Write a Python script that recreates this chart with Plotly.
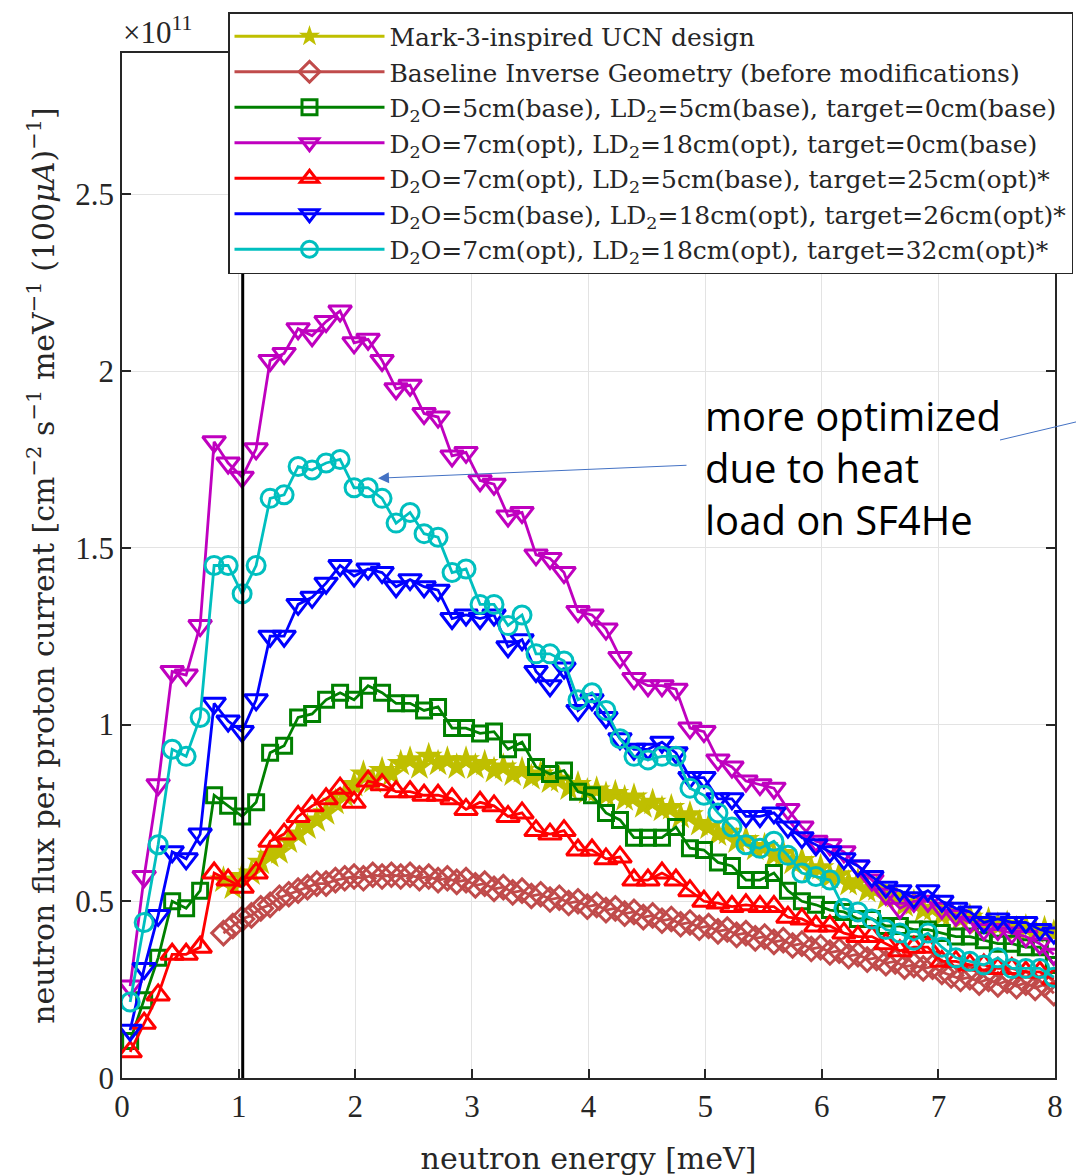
import plotly.graph_objects as go

# ---------------- data (flux in units of 1e11) ----------------
x_opt = [round(0.07 + 0.12 * k, 2) for k in range(67)]  # energy grid of the optimisation runs [meV]

y_green = [0.105, 0.22, 0.34, 0.50, 0.48, 0.53, 0.80, 0.77, 0.74, 0.78, 0.92, 0.94, 1.02, 1.03,
           1.07, 1.09, 1.07, 1.11, 1.09, 1.06, 1.06, 1.04, 1.05, 0.99, 0.99, 0.975, 0.98, 0.93,
           0.95, 0.88, 0.86, 0.87, 0.81, 0.80, 0.75, 0.73, 0.68, 0.68, 0.68, 0.71, 0.65, 0.645,
           0.61, 0.60, 0.56, 0.56, 0.58, 0.53, 0.50, 0.49, 0.475, 0.47, 0.45, 0.45, 0.43, 0.43,
           0.42, 0.42, 0.41, 0.40, 0.40, 0.39, 0.38, 0.38, 0.37, 0.37, 0.32]

y_magenta = [0.26, 0.57, 0.83, 1.15, 1.14, 1.28, 1.80, 1.74, 1.70, 1.78, 2.03, 2.05, 2.12, 2.10,
             2.14, 2.17, 2.08, 2.09, 2.03, 1.95, 1.96, 1.88, 1.87, 1.76, 1.77, 1.69, 1.68, 1.59,
             1.60, 1.48, 1.47, 1.43, 1.32, 1.31, 1.27, 1.19, 1.13, 1.11, 1.11, 1.10, 0.99, 0.98,
             0.90, 0.88, 0.84, 0.83, 0.82, 0.76, 0.71, 0.67, 0.66, 0.64, 0.60, 0.56, 0.52, 0.48,
             0.50, 0.50, 0.48, 0.46, 0.44, 0.42, 0.42, 0.41, 0.40, 0.38, 0.35]

y_red = [0.074, 0.155, 0.235, 0.35, 0.35, 0.37, 0.58, 0.56, 0.54, 0.58, 0.67, 0.69, 0.74, 0.77,
         0.79, 0.82, 0.78, 0.84, 0.83, 0.81, 0.81, 0.80, 0.80, 0.79, 0.76, 0.78, 0.77, 0.74,
         0.75, 0.70, 0.69, 0.70, 0.645, 0.645, 0.62, 0.625, 0.56, 0.56, 0.58, 0.56, 0.53, 0.50,
         0.495, 0.485, 0.49, 0.485, 0.485, 0.455, 0.45, 0.43, 0.43, 0.41, 0.40, 0.40, 0.38, 0.36,
         0.37, 0.37, 0.33, 0.33, 0.32, 0.32, 0.31, 0.31, 0.30, 0.30, 0.28]

y_blue = [0.135, 0.31, 0.46, 0.64, 0.62, 0.69, 1.06, 1.01, 0.98, 1.07, 1.25, 1.25, 1.34, 1.36,
          1.40, 1.45, 1.42, 1.44, 1.43, 1.39, 1.41, 1.39, 1.38, 1.30, 1.31, 1.30, 1.31, 1.22,
          1.24, 1.15, 1.11, 1.16, 1.04, 1.07, 1.02, 0.96, 0.93, 0.93, 0.95, 0.92, 0.85, 0.85,
          0.79, 0.79, 0.74, 0.74, 0.75, 0.71, 0.68, 0.66, 0.64, 0.62, 0.60, 0.57, 0.54, 0.53,
          0.51, 0.53, 0.50, 0.48, 0.47, 0.44, 0.45, 0.44, 0.44, 0.42, 0.41]

y_cyan = [0.215, 0.44, 0.66, 0.93, 0.91, 1.02, 1.45, 1.45, 1.37, 1.45, 1.64, 1.65, 1.73, 1.72,
          1.74, 1.75, 1.67, 1.67, 1.64, 1.57, 1.60, 1.54, 1.53, 1.43, 1.44, 1.34, 1.34, 1.28,
          1.31, 1.20, 1.20, 1.18, 1.07, 1.09, 1.04, 0.96, 0.91, 0.90, 0.91, 0.91, 0.82, 0.80,
          0.75, 0.71, 0.66, 0.65, 0.67, 0.63, 0.58, 0.57, 0.56, 0.48, 0.47, 0.45, 0.42, 0.41,
          0.39, 0.41, 0.37, 0.34, 0.33, 0.32, 0.34, 0.31, 0.31, 0.31, 0.285]

x_ref = [round(0.87 + 0.08 * j, 2) for j in range(90)]  # energy grid of the reference designs [meV]

y_mark3 = [0.56, 0.54, 0.57, 0.58, 0.61, 0.63, 0.64, 0.67, 0.69, 0.71, 0.73, 0.75, 0.78, 0.80,
           0.83, 0.86, 0.84, 0.87, 0.86, 0.89, 0.90, 0.88, 0.91, 0.89, 0.90, 0.88, 0.90, 0.88,
           0.89, 0.87, 0.88, 0.86, 0.87, 0.85, 0.86, 0.84, 0.845, 0.82, 0.83, 0.81, 0.815, 0.80,
           0.805, 0.79, 0.795, 0.77, 0.78, 0.76, 0.765, 0.74, 0.745, 0.72, 0.71, 0.69, 0.695, 0.67,
           0.675, 0.65, 0.655, 0.63, 0.635, 0.61, 0.615, 0.59, 0.595, 0.57, 0.575, 0.55, 0.555,
           0.53, 0.535, 0.51, 0.515, 0.49, 0.495, 0.475, 0.48, 0.46, 0.465, 0.45, 0.455, 0.44,
           0.445, 0.43, 0.435, 0.42, 0.425, 0.415, 0.42, 0.41]

y_baseline = [0.41, 0.43, 0.45, 0.46, 0.48, 0.49, 0.51, 0.52, 0.53, 0.54, 0.55, 0.55, 0.56, 0.565,
              0.57, 0.565, 0.575, 0.57, 0.575, 0.57, 0.575, 0.565, 0.57, 0.56, 0.565, 0.555, 0.56,
              0.545, 0.55, 0.535, 0.54, 0.525, 0.53, 0.515, 0.52, 0.505, 0.51, 0.495, 0.50, 0.485,
              0.49, 0.475, 0.48, 0.465, 0.47, 0.455, 0.46, 0.445, 0.45, 0.435, 0.44, 0.425, 0.43,
              0.415, 0.42, 0.405, 0.41, 0.395, 0.40, 0.385, 0.39, 0.375, 0.38, 0.365, 0.37, 0.355,
              0.36, 0.345, 0.35, 0.335, 0.34, 0.325, 0.33, 0.315, 0.32, 0.31, 0.315, 0.30, 0.29,
              0.28, 0.285, 0.27, 0.28, 0.265, 0.275, 0.26, 0.27, 0.255, 0.265, 0.24]

names = [
    "Mark-3-inspired UCN design",
    "Baseline Inverse Geometry (before modifications)",
    "D<sub>2</sub>O=5cm(base), LD<sub>2</sub>=5cm(base), target=0cm(base)",
    "D<sub>2</sub>O=7cm(opt), LD<sub>2</sub>=18cm(opt), target=0cm(base)",
    "D<sub>2</sub>O=7cm(opt), LD<sub>2</sub>=5cm(base), target=25cm(opt)*",
    "D<sub>2</sub>O=5cm(base), LD<sub>2</sub>=18cm(opt), target=26cm(opt)*",
    "D<sub>2</sub>O=7cm(opt), LD<sub>2</sub>=18cm(opt), target=32cm(opt)*",
]
cutoff_energy = 1.035
x_ticks = [0, 1, 2, 3, 4, 5, 6, 7, 8]
y_ticks = [0, 0.5, 1, 1.5, 2, 2.5]
y_ticklabels = ["0", "0.5", "1", "1.5", "2", "2.5"]

# ---------------- figure ----------------
SERIF = "Liberation Serif"
WIDE = "DejaVu Serif"
INK = "#262626"
fig = go.Figure()

series = [
    (x_ref, y_mark3, "#BFBF00", "star", 21, True),
    (x_ref, y_baseline, "#C04B4B", "diamond-open", 18, False),
    (x_opt, y_green, "#008000", "square-open", 15, False),
    (x_opt, y_magenta, "#BF00BF", "triangle-down-open", 20, False),
    (x_opt, y_red, "#FF0000", "triangle-up-open", 20, False),
    (x_opt, y_blue, "#0000FF", "triangle-down-open", 20, False),
    (x_opt, y_cyan, "#00BFBF", "circle-open", 18, False),
]
for (xs, ys, col, sym, sz, filled), nm in zip(series, names):
    fig.add_trace(go.Scatter(
        x=xs, y=ys, name=nm, mode="lines+markers",
        line=dict(color=col, width=2.8),
        marker=dict(symbol=sym, size=sz, color=col,
                    line=dict(color=col, width=3 if not filled else 0)),
    ))

fig.add_shape(type="line", xref="x", yref="paper", x0=cutoff_energy, x1=cutoff_energy,
              y0=0, y1=1, line=dict(color="black", width=3), layer="above")

# annotation arrow and text
fig.add_annotation(x=2.195, y=1.697, xref="x", yref="y", text="", showarrow=True,
                   axref="pixel", ayref="pixel", ax=310, ay=-13,
                   arrowhead=2, arrowsize=2.2, arrowwidth=1, arrowcolor="#4472C4")
fig.add_shape(type="line", xref="paper", yref="paper",
              x0=(1000 - 122) / 933, y0=(1078 - 440) / 1025,
              x1=(1080 - 122) / 933, y1=(1078 - 421) / 1025,
              line=dict(color="#4472C4", width=1))
fig.add_annotation(x=(703 - 122) / 933, y=(1078 - 467) / 1025, xref="paper", yref="paper",
                   text="more optimized<br>due to heat<br>load on SF4He", showarrow=False,
                   xanchor="left", yanchor="middle", align="left",
                   font=dict(family="Open Sans", size=40, color="black"))

fig.add_annotation(x=0, y=1.0, xref="paper", yref="paper", text="×10<sup>11</sup>",
                   showarrow=False, xanchor="left", yanchor="bottom", xshift=-1, yshift=1,
                   font=dict(family=SERIF, size=31, color=INK))

axis_common = dict(showline=True, linecolor=INK, linewidth=1.5, mirror="ticks",
                   ticks="inside", ticklen=9, tickwidth=1.5, tickcolor=INK,
                   showgrid=True, gridcolor="#e3e3e3", gridwidth=1, zeroline=False,
                   tickfont=dict(family=SERIF, size=31, color=INK))

fig.update_xaxes(range=[0, 8], tickvals=x_ticks,
                 title=dict(text="neutron energy [meV]", font=dict(family=WIDE, size=30, color=INK),
                            standoff=26),
                 **axis_common)
fig.update_yaxes(range=[0, 2.9], tickvals=y_ticks, ticktext=y_ticklabels,
                 title=dict(text="neutron flux per proton current [cm<sup>−2</sup> s<sup>−1</sup> meV<sup>−1</sup> (100<i>μA</i>)<sup>−1</sup>]",
                            font=dict(family=WIDE, size=30, color=INK), standoff=12),
                 **axis_common)

fig.update_layout(
    width=1076, height=1176,
    margin=dict(l=122, r=21, t=53, b=98, autoexpand=False),
    paper_bgcolor="white", plot_bgcolor="white",
    showlegend=True,
    legend=dict(x=(228 - 122) / 933, y=(1078 - 12) / 1025, xanchor="left", yanchor="top",
                bgcolor="white", bordercolor=INK, borderwidth=1.5,
                font=dict(family=WIDE, size=25, color=INK),
                itemwidth=150, tracegroupgap=0),
)

fig.write_html("out.html")
